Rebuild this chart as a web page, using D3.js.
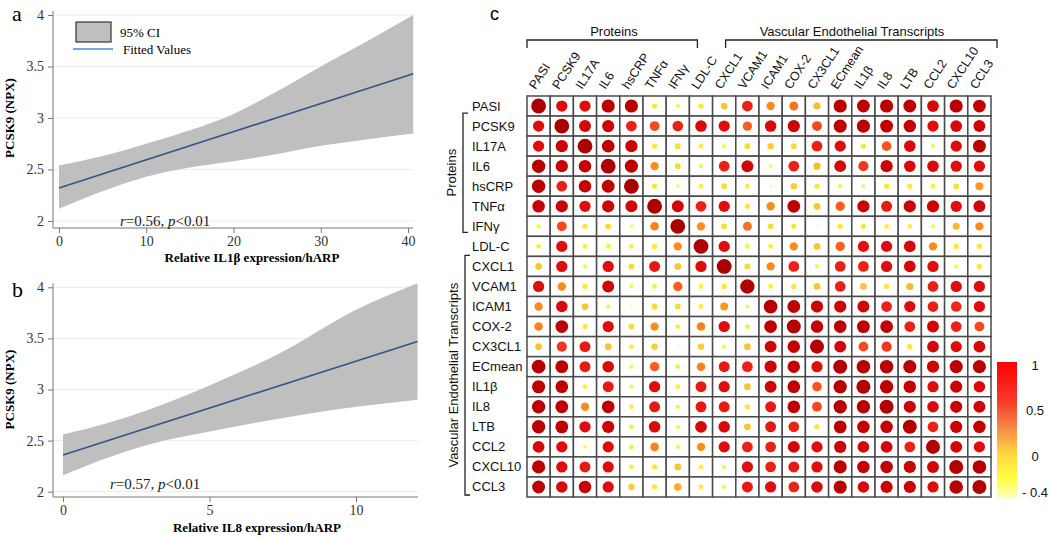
<!DOCTYPE html>
<html><head><meta charset="utf-8">
<script src="https://cdn.jsdelivr.net/npm/d3@7"></script>
<style>body{margin:0;background:#fff} svg{display:block}</style>
</head><body><svg id="c" width="1050" height="538"></svg>
<script>
// ---------- Panel a / b data ----------
const yTicks = [2, 2.5, 3, 3.5, 4];
const aXTicks = [0, 10, 20, 30, 40];
const aFitX = [0, 40.6];
const aFitY = [2.32, 3.43];
const aBandX = [0, 5, 10, 15, 20, 25, 30, 35, 40.6];
const aBandHi = [2.54, 2.63, 2.75, 2.88, 3.04, 3.26, 3.50, 3.73, 4.0];
const aBandLo = [2.12, 2.29, 2.43, 2.52, 2.58, 2.65, 2.73, 2.79, 2.85];

const bXTicks = [0, 5, 10];
const bFitX = [0, 12.1];
const bFitY = [2.36, 3.47];
const bBandX = [0, 1.5, 2.9, 5, 7.5, 10, 12.1];
const bBandHi = [2.56, 2.67, 2.80, 3.04, 3.37, 3.78, 4.04];
const bBandLo = [2.16, 2.33, 2.46, 2.59, 2.72, 2.83, 2.90];

// ---------- Panel c data ----------
const labels = ["PASI","PCSK9","IL17A","IL6","hsCRP","TNFα","IFNγ","LDL-C","CXCL1","VCAM1","ICAM1","COX-2","CX3CL1","ECmean","IL1β","IL8","LTB","CCL2","CXCL10","CCL3"];
const corr = [
 [0.95,0.55,0.55,0.75,0.75,0.12,0.08,0.12,0.2,0.5,0.3,0.35,0.22,0.75,0.72,0.75,0.72,0.6,0.75,0.7],
 [0.55,0.95,0.62,0.65,0.5,0.42,0.5,0.58,0.55,0.38,0.58,0.65,0.42,0.75,0.75,0.72,0.68,0.55,0.6,0.62],
 [0.55,0.65,0.95,0.7,0.65,0.12,0.15,0.1,0.08,0.15,0.18,0.15,0.5,0.55,0.12,0.4,0.58,0.08,0.55,0.72],
 [0.78,0.65,0.68,0.95,0.75,0.3,0.15,0.08,0.5,0.62,0.06,0.5,0.22,0.6,0.45,0.65,0.58,0.58,0.55,0.55],
 [0.78,0.5,0.68,0.72,0.95,0.12,0.06,0.1,0.15,0.1,0.03,0.18,0.12,0.08,0.07,0.12,0.12,0.1,0.14,0.28],
 [0.68,0.65,0.55,0.65,0.62,0.95,0.62,0.5,0.55,0.12,0.3,0.7,0.2,0.38,0.65,0.52,0.65,0.65,0.55,0.62],
 [0.08,0.42,0.12,0.15,0.06,0.32,0.95,0.3,0.15,0.35,0.15,0.12,0.02,0.12,0.12,0.1,0.1,0.08,0.22,0.3],
 [0.1,0.55,0.1,0.1,0.1,0.12,0.3,0.95,0.55,0.1,0.1,0.3,0.2,0.38,0.55,0.55,0.6,0.3,0.12,0.12],
 [0.2,0.55,0.08,0.55,0.15,0.52,0.2,0.55,0.95,0.15,0.3,0.5,0.08,0.5,0.5,0.55,0.6,0.55,0.08,0.12],
 [0.55,0.3,0.12,0.62,0.08,0.1,0.38,0.1,0.12,0.9,0.1,0.12,0.2,0.5,0.2,0.12,0.22,0.5,0.55,0.55],
 [0.3,0.58,0.2,0.08,0.03,0.15,0.15,0.1,0.28,0.08,0.82,0.72,0.65,0.65,0.62,0.5,0.55,0.5,0.48,0.55],
 [0.32,0.7,0.12,0.55,0.15,0.3,0.1,0.32,0.55,0.1,0.7,0.85,0.68,0.7,0.72,0.7,0.5,0.62,0.5,0.42],
 [0.2,0.45,0.52,0.2,0.1,0.18,0.02,0.18,0.08,0.2,0.62,0.68,0.85,0.62,0.42,0.45,0.12,0.6,0.55,0.6],
 [0.82,0.72,0.52,0.58,0.08,0.38,0.1,0.32,0.52,0.5,0.65,0.68,0.55,0.85,0.8,0.8,0.75,0.65,0.75,0.75],
 [0.75,0.7,0.1,0.52,0.08,0.55,0.1,0.52,0.55,0.2,0.62,0.7,0.4,0.78,0.85,0.78,0.68,0.55,0.65,0.58],
 [0.78,0.72,0.3,0.7,0.1,0.52,0.08,0.52,0.52,0.12,0.52,0.7,0.42,0.78,0.78,0.85,0.65,0.58,0.65,0.62],
 [0.78,0.72,0.55,0.65,0.1,0.58,0.08,0.6,0.58,0.2,0.52,0.5,0.12,0.72,0.68,0.68,0.85,0.5,0.65,0.68],
 [0.6,0.55,0.06,0.55,0.1,0.32,0.08,0.3,0.55,0.5,0.5,0.62,0.55,0.65,0.6,0.62,0.5,0.85,0.62,0.55],
 [0.75,0.55,0.52,0.55,0.1,0.12,0.2,0.1,0.08,0.55,0.5,0.52,0.55,0.75,0.68,0.68,0.65,0.62,0.85,0.8],
 [0.72,0.58,0.68,0.55,0.18,0.12,0.25,0.1,0.08,0.52,0.55,0.5,0.58,0.75,0.58,0.65,0.65,0.55,0.8,0.85]
];
const legendTicks = [1, 0.5, 0, -0.4];
const legendTickText = ["1", "0.5", "0", "- 0.4"];

const svg = d3.select("#c");
const SERIF = "'Liberation Serif','Times New Roman',serif";
const SANS = "'Liberation Sans',Arial,sans-serif";

function scatterPanel(cfg) {
  const g = svg.append("g");
  const x = d3.scaleLinear().domain(cfg.xDom).range(cfg.xRange);
  const y = d3.scaleLinear().domain([2, 4]).range(cfg.yRange);
  g.selectAll(".grid").data(yTicks).join("line")
    .attr("x1", cfg.axisX).attr("x2", cfg.rightX)
    .attr("y1", d => y(d)).attr("y2", d => y(d))
    .attr("stroke", "#ececec").attr("stroke-width", 1);
  const pts = cfg.bandX.map((v, i) => ({x: v, lo: cfg.bandLo[i], hi: cfg.bandHi[i]}));
  g.append("path").datum(pts)
    .attr("d", d3.area().x(d => x(d.x)).y0(d => y(d.lo)).y1(d => y(d.hi)).curve(d3.curveMonotoneX))
    .attr("fill", "#bfbfbf");
  g.append("path").datum(cfg.fitX.map((v, i) => [v, cfg.fitY[i]]))
    .attr("d", d3.line().x(d => x(d[0])).y(d => y(d[1])))
    .attr("stroke", "#34568a").attr("stroke-width", 1.6).attr("fill", "none");
  const ya = g.append("g").attr("transform", `translate(${cfg.axisX},0)`)
    .call(d3.axisLeft(y).tickValues(yTicks).tickSize(5).tickPadding(4).tickFormat(d3.format("")));
  const xa = g.append("g").attr("transform", `translate(0,${cfg.axisY})`)
    .call(d3.axisBottom(x).tickValues(cfg.xTicks).tickSize(5).tickPadding(3));
  [ya, xa].forEach(a => {
    a.select(".domain").remove();
    a.selectAll("line").attr("stroke", "#777");
    a.selectAll("text").attr("font-family", SERIF).attr("font-size", 14).attr("fill", "#333");
  });
  g.append("line").attr("x1", cfg.axisX).attr("x2", cfg.axisX)
    .attr("y1", cfg.yRange[1] - 4).attr("y2", cfg.axisY).attr("stroke", "#777");
  g.append("line").attr("x1", cfg.axisX).attr("x2", cfg.rightX)
    .attr("y1", cfg.axisY).attr("y2", cfg.axisY).attr("stroke", "#777");
  g.append("text").attr("transform", `translate(${cfg.yTitleX},${(cfg.yRange[0] + cfg.yRange[1]) / 2}) rotate(-90)`)
    .attr("text-anchor", "middle").attr("font-family", SERIF).attr("font-weight", "bold")
    .attr("font-size", 13).text("PCSK9 (NPX)");
  g.append("text").attr("x", cfg.xTitleX).attr("y", cfg.xTitleY)
    .attr("text-anchor", "middle").attr("font-family", SERIF).attr("font-weight", "bold")
    .attr("font-size", 13).text(cfg.xTitle);
  const t = g.append("text").attr("x", cfg.statX).attr("y", cfg.statY)
    .attr("font-family", SERIF).attr("font-size", 15).attr("fill", "#222");
  t.append("tspan").attr("font-style", "italic").text("r");
  t.append("tspan").text("=" + cfg.r + ", ");
  t.append("tspan").attr("font-style", "italic").text("p");
  t.append("tspan").text("<0.01");
  g.append("text").attr("x", 12).attr("y", cfg.letterY).attr("font-family", SERIF)
    .attr("font-size", 22).text(cfg.letter);
  return g;
}

const ga = scatterPanel({xDom: [0, 40], xRange: [59, 408], yRange: [221, 15], axisX: 53, axisY: 228, rightX: 413,
  xTicks: aXTicks, bandX: aBandX, bandLo: aBandLo, bandHi: aBandHi, fitX: aFitX, fitY: aFitY,
  yTitleX: 14, xTitleX: 252, xTitleY: 262, xTitle: "Relative IL1β expression/hARP",
  statX: 120, statY: 226, r: "0.56", letter: "a", letterY: 21});
const gb = scatterPanel({xDom: [0, 10], xRange: [63, 356], yRange: [491.7, 287.3], axisX: 53, axisY: 497, rightX: 418,
  xTicks: bXTicks, bandX: bBandX, bandLo: bBandLo, bandHi: bBandHi, fitX: bFitX, fitY: bFitY,
  yTitleX: 14, xTitleX: 257, xTitleY: 532, xTitle: "Relative IL8 expression/hARP",
  statX: 110, statY: 489, r: "0.57", letter: "b", letterY: 297});

ga.append("rect").attr("x", 76).attr("y", 22).attr("width", 35).attr("height", 20)
  .attr("fill", "#bfbfbf").attr("stroke", "#333").attr("stroke-width", 1.2);
ga.append("text").attr("x", 120).attr("y", 37).attr("font-family", SERIF).attr("font-size", 13).text("95% CI");
ga.append("line").attr("x1", 73).attr("x2", 113).attr("y1", 49).attr("y2", 49)
  .attr("stroke", "#4a8ad4").attr("stroke-width", 1.6);
ga.append("text").attr("x", 123).attr("y", 54).attr("font-family", SERIF).attr("font-size", 13).text("Fitted Values");

// ---------- Panel c ----------
const gc = svg.append("g");
const cx = d3.scaleBand().domain(labels).range([527, 991]);
const cy = d3.scaleBand().domain(labels).range([96, 497]);
const rScale = d3.scaleSqrt().domain([0, 1]).range([0, 7.6]);
const cColor = d3.scaleLinear().domain([0, 0.1, 0.2, 0.3, 0.45, 0.55, 0.7, 1])
  .range(['#ffff9a', '#ffee33', '#ffc52e', '#ff8c1a', '#f3371f', '#e00d0d', '#c00000', '#a60000']).clamp(true);

const cells = [];
corr.forEach((row, i) => row.forEach((v, j) => cells.push({r: labels[i], c: labels[j], v})));
gc.selectAll("rect.cell").data(cells).join("rect").attr("class", "cell")
  .attr("x", d => cx(d.c)).attr("y", d => cy(d.r))
  .attr("width", cx.bandwidth()).attr("height", cy.bandwidth())
  .attr("fill", "#fff").attr("stroke", "#4a4a4a").attr("stroke-width", 1.5);
gc.selectAll("circle").data(cells).join("circle")
  .attr("cx", d => cx(d.c) + cx.bandwidth() / 2).attr("cy", d => cy(d.r) + cy.bandwidth() / 2)
  .attr("r", d => rScale(Math.abs(d.v))).attr("fill", d => cColor(d.v));

gc.selectAll("text.rl").data(labels).join("text").attr("class", "rl")
  .attr("x", 472).attr("y", d => cy(d) + cy.bandwidth() / 2 + 4.5)
  .attr("font-family", SANS).attr("font-size", 13).attr("fill", "#111").text(d => d);
gc.selectAll("text.cl").data(labels).join("text").attr("class", "cl")
  .attr("transform", d => `translate(${cx(d) + cx.bandwidth() / 2 - 3},90) rotate(-57)`)
  .attr("font-family", SANS).attr("font-size", 12.5).attr("fill", "#111").text(d => d);

const bk = "#222";
function hBracket(x1, x2, yy, text, tx) {
  gc.append("path").attr("d", `M${x1},${yy + 8}V${yy}H${x2}V${yy + 8}`)
    .attr("fill", "none").attr("stroke", bk).attr("stroke-width", 1.3);
  gc.append("text").attr("x", tx).attr("y", yy - 4).attr("text-anchor", "middle")
    .attr("font-family", SANS).attr("font-size", 13).attr("fill", "#111").text(text);
}
hBracket(cx("PASI"), cx("LDL-C") + 8, 40, "Proteins", 614);
hBracket(cx("CXCL1") + 13, 997, 40, "Vascular Endothelial Transcripts", 852);
function vBracket(y1, y2, xx, text) {
  gc.append("path").attr("d", `M${xx + 5},${y1}H${xx}V${y2}H${xx + 5}`)
    .attr("fill", "none").attr("stroke", bk).attr("stroke-width", 1.3);
  gc.append("text").attr("transform", `translate(${xx - 7},${(y1 + y2) / 2}) rotate(-90)`)
    .attr("text-anchor", "middle").attr("font-family", SANS).attr("font-size", 13).attr("fill", "#111").text(text);
}
vBracket(cy("PCSK9") - 3, cy("IFNγ") + cy.bandwidth() - 4, 463, "Proteins");
vBracket(cy("CXCL1") - 1, cy("CCL3") + cy.bandwidth() - 2, 465, "Vascular Endothelial Transcripts");

gc.append("text").attr("x", 490).attr("y", 20).attr("font-family", SANS).attr("font-size", 18).text("c");

const defs = svg.append("defs");
const grad = defs.append("linearGradient").attr("id", "cb").attr("x1", 0).attr("x2", 0).attr("y1", 1).attr("y2", 0);
const barStops = [[-0.4, "#ffffc0"], [-0.2, "#ffff40"], [0.05, "#ffd840"], [0.3, "#f8904a"], [0.6, "#f63a2a"], [1, "#ff0000"]];
grad.selectAll("stop").data(barStops).join("stop")
  .attr("offset", d => (d[0] + 0.4) / 1.4).attr("stop-color", d => d[1]);
svg.append("rect").attr("x", 997).attr("y", 362).attr("width", 20).attr("height", 136).attr("fill", "url(#cb)");
const ly = d3.scaleLinear().domain([-0.4, 1]).range([492, 365]);
svg.selectAll("text.lg").data(legendTicks).join("text").attr("class", "lg")
  .attr("x", 1035).attr("y", d => ly(d) + 5).attr("text-anchor", "middle")
  .attr("font-family", SANS).attr("font-size", 13).attr("fill", "#111")
  .text((d, i) => legendTickText[i]);
</script></body></html>
